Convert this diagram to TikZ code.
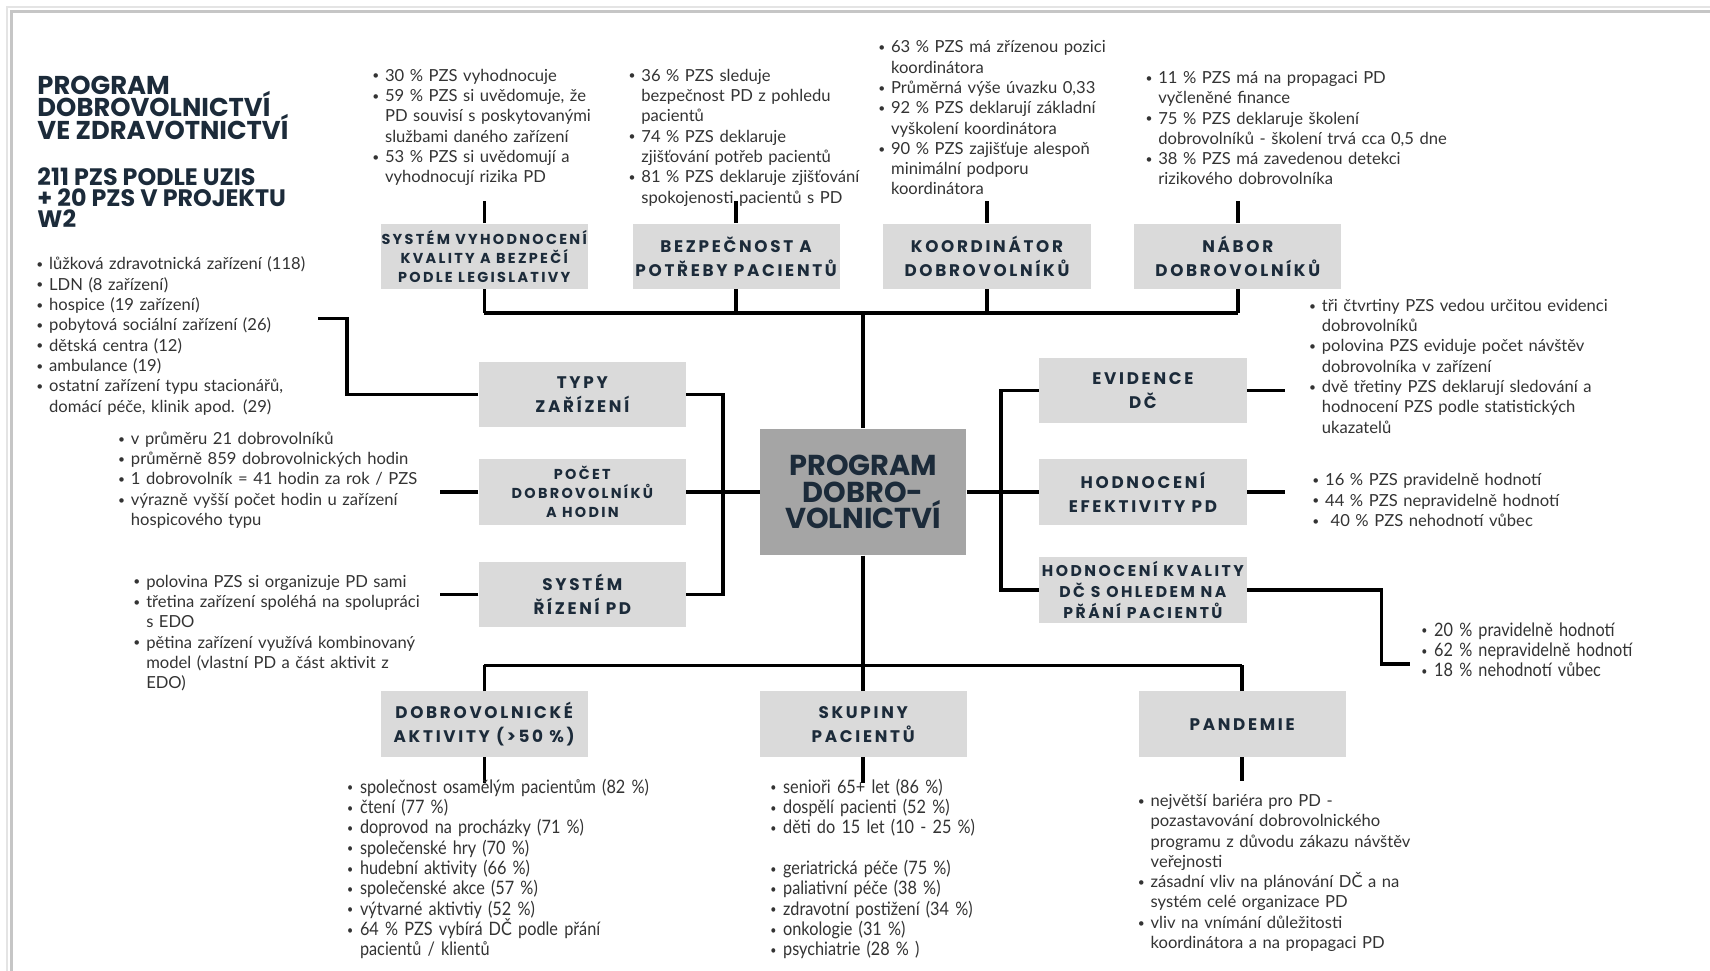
\documentclass[tikz,border=0pt]{standalone}
\usepackage{fontspec}
\setmainfont{Lato}
\newfontfamily\hfont{Poppins}[LetterSpace=16]
\newfontfamily\tfont{Poppins}
\newfontfamily\cfont{Lato}[FakeStretch=0.88]
\definecolor{boxgray}{HTML}{DADADA}
\definecolor{centergray}{HTML}{A5A5A5}
\definecolor{navy}{HTML}{1C2B3A}
\definecolor{bodytext}{HTML}{333333}
\definecolor{frameA}{HTML}{E4E4E4}
\definecolor{frameB}{HTML}{C6C6C6}
\newlength\bw
\setlength\bw{6.4pt}
\newcommand\nls{\lineskiplimit-20pt\relax}
\newcommand\bl{\par\hangindent\bw\hangafter1\noindent\strut\makebox[\bw][l]{\raisebox{0.15ex}{\fontsize{6}{6}\selectfont\textbullet}}}
\tikzset{
  conn/.style={draw=black, line width=1.7pt},
  box/.style={fill=boxgray, inner sep=0pt, minimum width=103.6pt, minimum height=32.7pt,
    align=center, text=navy, font=\hfont\bfseries\fontsize{8.4}{12}\selectfont\nls},
  sbox/.style={box, font=\hfont\bfseries\fontsize{7.2}{9.6}\selectfont\nls},
  mbox/.style={box, font=\hfont\bfseries\fontsize{7.8}{10.4}\selectfont\nls},
  cbox/.style={fill=centergray, inner sep=0pt, minimum width=103pt, minimum height=63.3pt,
    align=center, text=navy, font=\tfont\bfseries\fontsize{14.4}{13.1}\selectfont\nls},
  lst/.style={anchor=north west, inner sep=0pt, text width=220pt, align=left,
    text=bodytext, font=\fontsize{8.3}{10.15}\selectfont\nls},
  clst/.style={lst, font=\cfont\fontsize{9.25}{10.15}\selectfont\nls},
  ttl/.style={anchor=north west, inner sep=0pt, align=left, text=navy},
  ttlA/.style={ttl, font=\tfont\bfseries\fontsize{12.9}{11.2}\selectfont\nls},
  ttlB/.style={ttl, font=\tfont\bfseries\fontsize{11.9}{10.4}\selectfont\nls},
}
\begin{document}
\begin{tikzpicture}[x=0.54528pt, y=-0.54528pt]
\useasboundingbox (0,0) rectangle (1568,890);
\fill[white] (0,0) rectangle (1568,890);
% frame
\draw[frameA, line width=1.3pt] (6.5,890) -- (6.5,6.5) -- (1568,6.5);
\draw[frameB, line width=1.3pt] (10.5,890) -- (10.5,10.5) -- (1568,10.5);

% titles
\node[ttlA] (title1) at (34,69.5) {PROGRAM\\DOBROVOLNICTVÍ\\VE ZDRAVOTNICTVÍ};
\node[ttlB] (title2) at (34,153.5) {211 PZS PODLE UZIS\\+ 20 PZS V PROJEKTU\\W2};

% boxes
\node[cbox] (center) at (791.5,451) {PROGRAM\\DOBRO-\\VOLNICTVÍ};
\node[sbox] (sysv) at (444,235) {SYSTÉM VYHODNOCENÍ\\KVALITY A BEZPEČÍ\\PODLE LEGISLATIVY};
\node[box] (bezp) at (675,235) {BEZPEČNOST A\\POTŘEBY PACIENTŮ};
\node[box] (koord) at (905,235) {KOORDINÁTOR\\DOBROVOLNÍKŮ};
\node[box] (nabor) at (1135,235) {NÁBOR\\DOBROVOLNÍKŮ};
\node[box] (typy) at (534,362) {TYPY\\ZAŘÍZENÍ};
\node[sbox] (pocet) at (534,451) {POČET\\DOBROVOLNÍKŮ\\A HODIN};
\node[box] (rizeni) at (534,545) {SYSTÉM\\ŘÍZENÍ PD};
\node[box] (evid) at (1048,358) {EVIDENCE\\DČ};
\node[box] (hodef) at (1048,451) {HODNOCENÍ\\EFEKTIVITY PD};
\node[mbox] (hodkv) at (1048,541) {HODNOCENÍ KVALITY\\DČ S OHLEDEM NA\\PŘÁNÍ PACIENTŮ};
\node[box] (aktiv) at (444,664) {DOBROVOLNICKÉ\\AKTIVITY (>50 \%)};
\node[box] (skup) at (791.5,664) {SKUPINY\\PACIENTŮ};
\node[box] (pand) at (1139,664) {PANDEMIE};

% connectors: top
\coordinate (busT) at (444,287);
\coordinate (busTR) at (1135,287);
\draw[conn] (busT) -- (busTR);
\draw[conn] (sysv.south) -- (sysv.south |- busT);
\draw[conn] (bezp.south) -- (bezp.south |- busT);
\draw[conn] (koord.south) -- (koord.south |- busT);
\draw[conn] (nabor.south) -- (nabor.south |- busT);
\draw[conn] (center.north) -- (center.north |- busT);
\draw[conn] (sysv.north) -- ++(0,-20);
\draw[conn] (bezp.north) -- ++(0,-20);
\draw[conn] (koord.north) -- ++(0,-20);
\draw[conn] (nabor.north) -- ++(0,-20);
% bottom
\coordinate (busB) at (444,610);
\coordinate (busBR) at (1139,610);
\draw[conn] (busB) -- (busBR);
\draw[conn] (aktiv.north) -- (aktiv.north |- busB);
\draw[conn] (pand.north) -- (pand.north |- busB);
\draw[conn] (center.south) -- (skup.north);
\draw[conn] (aktiv.south) -- ++(0,24);
\draw[conn] (skup.south) -- ++(0,24);
\draw[conn] (pand.south) -- ++(0,22);
% left
\coordinate (l1a) at (292,292);
\coordinate (l1b) at (318,292);
\draw[conn] (l1a) -- (l1b) |- (typy.west);
\draw[conn] (pocet.west) -- ++(-35,0);
\draw[conn] (rizeni.west) -- ++(-35,0);
\coordinate (lbr) at (663,451);
\draw[conn] (typy.east) -| (lbr) |- (rizeni.east);
\draw[conn] (pocet.east) -- (center.west);
% right
\coordinate (rbr) at (918,451);
\draw[conn] (evid.west) -| (rbr) |- (hodkv.west);
\draw[conn] (center.east) -- (hodef.west);
\draw[conn] (evid.east) -- ++(35,0);
\draw[conn] (hodef.east) -- ++(35,0);
\coordinate (kvm) at (1267,541);
\coordinate (kve) at (1293,609);
\draw[conn] (hodkv.east) -- (kvm) |- (kve);

% lists
\node[lst] (lst1) at (33,228.5) {%
\bl lůžková zdravotnická zařízení (118)
\bl LDN (8 zařízení)
\bl hospice (19 zařízení)
\bl pobytová sociální zařízení (26)
\bl dětská centra (12)
\bl ambulance (19)
\bl ostatní zařízení typu stacionářů,\newline domácí péče, klinik apod. (29)\par};

\node[lst] (lpocet) at (108,388.5) {%
\bl v průměru 21 dobrovolníků
\bl průměrně 859 dobrovolnických hodin
\bl 1 dobrovolník = 41 hodin za rok / PZS
\bl výrazně vyšší počet hodin u zařízení\newline hospicového typu\par};

\node[lst] (lrizeni) at (122,519.5) {%
\bl polovina PZS si organizuje PD sami
\bl třetina zařízení spoléhá na spolupráci\newline s EDO
\bl pětina zařízení využívá kombinovaný\newline model (vlastní PD a část aktivit z\newline EDO)\par};

\node[lst] (lc1) at (341,55.5) {%
\bl 30 \% PZS vyhodnocuje
\bl 59 \% PZS si uvědomuje, že\newline PD souvisí s poskytovanými\newline službami daného zařízení
\bl 53 \% PZS si uvědomují a\newline vyhodnocují rizika PD\par};

\node[lst] (lc2) at (576,55.5) {%
\bl 36 \% PZS sleduje\newline bezpečnost PD z pohledu\newline pacientů
\bl 74 \% PZS deklaruje\newline zjišťování potřeb pacientů
\bl 81 \% PZS deklaruje zjišťování\newline spokojenosti pacientů s PD\par};

\node[lst] (lc3) at (805,29.5) {%
\bl 63 \% PZS má zřízenou pozici\newline koordinátora
\bl Průměrná výše úvazku 0,33
\bl 92 \% PZS deklarují základní\newline vyškolení koordinátora
\bl 90 \% PZS zajišťuje alespoň\newline minimální podporu\newline koordinátora\par};

\node[lst] (lc4) at (1050,57.5) {%
\bl 11 \% PZS má na propagaci PD\newline vyčleněné finance
\bl 75 \% PZS deklaruje školení\newline dobrovolníků - školení trvá cca 0,5 dne
\bl 38 \% PZS má zavedenou detekci\newline rizikového dobrovolníka\par};

\node[lst] (levid) at (1200,266.5) {%
\bl tři čtvrtiny PZS vedou určitou evidenci\newline dobrovolníků
\bl polovina PZS eviduje počet návštěv\newline dobrovolníka v zařízení
\bl dvě třetiny PZS deklarují sledování a\newline hodnocení PZS podle statistických\newline ukazatelů\par};

\node[lst] (lhodef) at (1203,426.5) {%
\bl 16 \% PZS pravidelně hodnotí
\bl 44 \% PZS nepravidelně hodnotí
\bl \ 40 \% PZS nehodnotí vůbec\par};

\node[clst] (lhodkv) at (1303,564.5) {%
\bl 20 \% pravidelně hodnotí
\bl 62 \% nepravidelně hodnotí
\bl 18 \% nehodnotí vůbec\par};

\node[clst] (laktiv) at (318,708.5) {%
\bl společnost osamělým pacientům (82 \%)
\bl čtení (77 \%)
\bl doprovod na procházky (71 \%)
\bl společenské hry (70 \%)
\bl hudební aktivity (66 \%)
\bl společenské akce (57 \%)
\bl výtvarné aktivtiy (52 \%)
\bl 64 \% PZS vybírá DČ podle přání\newline pacientů / klientů\par};

\node[clst] (lskup) at (706,708.5) {%
\bl senioři 65+ let (86 \%)
\bl dospělí pacienti (52 \%)
\bl děti do 15 let (10 - 25 \%)
\par\noindent\strut
\bl geriatrická péče (75 \%)
\bl paliativní péče (38 \%)
\bl zdravotní postižení (34 \%)
\bl onkologie (31 \%)
\bl psychiatrie (28 \% )\par};

\node[lst] (lpand) at (1043,720.5) {%
\bl největší bariéra pro PD -\newline pozastavování dobrovolnického\newline programu z důvodu zákazu návštěv\newline veřejnosti
\bl zásadní vliv na plánování DČ a na\newline systém celé organizace PD
\bl vliv na vnímání důležitosti\newline koordinátora a na propagaci PD\par};
\end{tikzpicture}
\end{document}
